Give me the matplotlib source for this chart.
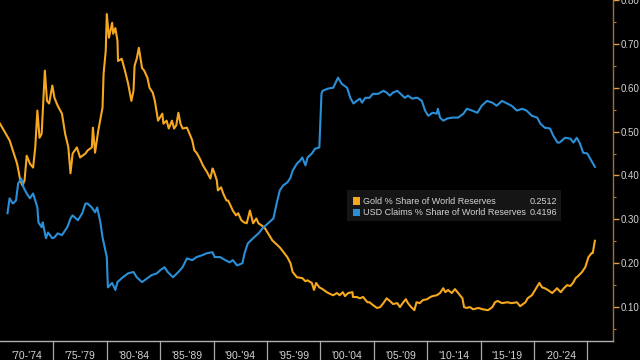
import matplotlib
matplotlib.use("Agg")
import matplotlib.pyplot as plt
from matplotlib.patches import Rectangle
from matplotlib.ticker import MultipleLocator, FormatStrFormatter
import matplotlib.transforms as mtransforms

plt.rcParams['font.family'] = ['Liberation Sans', 'DejaVu Sans']

gold_years = [1970.0, 1970.9, 1971.6, 1971.9, 1972.1, 1972.3, 1972.5, 1972.8, 1973.1, 1973.3,
              1973.5, 1973.7, 1973.9, 1974.2, 1974.4, 1974.6, 1974.9, 1975.1, 1975.4, 1975.8,
              1976.1, 1976.4, 1976.6, 1976.8, 1977.2, 1977.5, 1978.0, 1978.2, 1978.6, 1978.7,
              1978.9, 1979.2, 1979.6, 1979.7, 1979.9, 1980.0, 1980.2, 1980.5, 1980.6, 1980.8,
              1981.0, 1981.05, 1981.4, 1981.7, 1982.0, 1982.3, 1982.5, 1982.6, 1982.8, 1983.0,
              1983.3, 1983.5, 1983.8, 1984.0, 1984.3,
              1984.5, 1984.8, 1985.2, 1985.3, 1985.6, 1985.8, 1986.1, 1986.3, 1986.5, 1986.7,
              1986.9, 1987.1, 1987.5, 1987.7, 1988.0, 1988.2, 1988.4, 1988.7, 1989.0, 1989.4,
              1989.7, 1989.9, 1990.0, 1990.3, 1990.4, 1990.7, 1990.9, 1991.2, 1991.35, 1991.5,
              1991.8, 1992.1, 1992.3, 1992.6, 1992.85, 1993.1, 1993.4, 1993.7, 1994.0, 1994.2,
              1994.5, 1994.8, 1995.1, 1995.5, 1996.2, 1996.9,
              1997.2, 1997.4, 1997.8, 1998.3, 1998.6, 1998.8, 1999.2, 1999.4, 1999.6, 1999.9,
              2000.2, 2000.6, 2000.9, 2001.2, 2001.55, 2001.8, 2002.1, 2002.3, 2002.6, 2003.0,
              2003.05, 2003.4, 2003.7, 2004.0, 2004.4, 2004.6, 2004.9, 2005.3, 2005.6, 2005.9,
              2006.2, 2006.5, 2006.8, 2007.2, 2007.45, 2007.7, 2008.0, 2008.2, 2008.5, 2008.8,
              2009.0, 2009.3, 2009.6, 2010.0, 2010.3, 2010.5, 2010.9, 2011.2, 2011.5, 2011.7,
              2011.95, 2012.3, 2012.6, 2012.9, 2013.3, 2013.45, 2013.7, 2014.0, 2014.3, 2014.8,
              2015.2, 2015.7, 2016.1, 2016.35, 2016.6, 2017.0, 2017.5, 2017.9, 2018.4, 2018.7,
              2019.2, 2019.4, 2019.8, 2020.1, 2020.5, 2020.75, 2021.0, 2021.3, 2021.7, 2022.0,
              2022.15, 2022.5, 2022.8, 2023.1, 2023.4, 2023.65, 2023.9, 2024.1, 2024.5, 2024.8,
              2025.1, 2025.4, 2025.5, 2025.7]
gold_share = [0.518, 0.480, 0.427, 0.389, 0.377, 0.389, 0.445, 0.427, 0.418, 0.464,
              0.548, 0.486, 0.495, 0.639, 0.570, 0.564, 0.605, 0.577, 0.559, 0.541,
              0.495, 0.464, 0.405, 0.450, 0.464, 0.441, 0.450, 0.457, 0.464, 0.509,
              0.452, 0.502, 0.555, 0.632, 0.684, 0.768, 0.714, 0.748, 0.723, 0.736,
              0.707, 0.661, 0.666, 0.639, 0.609, 0.570, 0.593, 0.650, 0.666, 0.691,
              0.645, 0.639, 0.623, 0.600, 0.589,
              0.570, 0.525, 0.541, 0.518, 0.525, 0.507, 0.525, 0.507, 0.514, 0.543,
              0.518, 0.507, 0.509, 0.498, 0.480, 0.457, 0.452, 0.439, 0.423, 0.407,
              0.393, 0.416, 0.411, 0.389, 0.366, 0.373, 0.359, 0.343, 0.343, 0.336,
              0.320, 0.309, 0.314, 0.298, 0.293, 0.291, 0.320, 0.291, 0.302, 0.291,
              0.286, 0.280, 0.268, 0.252, 0.236, 0.214,
              0.200, 0.180, 0.168, 0.166, 0.159, 0.161, 0.155, 0.139, 0.155, 0.145,
              0.141, 0.134, 0.130, 0.127, 0.132, 0.127, 0.134, 0.125, 0.132, 0.134,
              0.123, 0.123, 0.120, 0.123, 0.111, 0.111, 0.105, 0.098, 0.100, 0.109,
              0.120, 0.114, 0.107, 0.109, 0.100, 0.109, 0.118, 0.109, 0.100, 0.093,
              0.111, 0.109, 0.116, 0.118, 0.123, 0.125, 0.127, 0.132, 0.143, 0.134,
              0.139, 0.132, 0.141, 0.132, 0.120, 0.100, 0.098, 0.100, 0.095, 0.098,
              0.095, 0.093, 0.100, 0.111, 0.114, 0.109, 0.111, 0.109, 0.111, 0.102,
              0.111, 0.120, 0.127, 0.139, 0.155, 0.145, 0.143, 0.139, 0.132, 0.139,
              0.143, 0.134, 0.143, 0.150, 0.148, 0.155, 0.166, 0.170, 0.180, 0.191,
              0.214, 0.223, 0.223, 0.2512]

usd_years = [1970.7, 1970.9, 1971.2, 1971.5, 1971.7, 1972.0, 1972.2, 1972.5, 1972.8, 1973.1,
             1973.5, 1973.6, 1973.9, 1974.0, 1974.3, 1974.5, 1974.9, 1975.1, 1975.4, 1975.8,
             1976.3, 1976.6, 1976.8, 1977.3, 1977.7, 1978.0, 1978.2, 1978.6, 1978.9, 1979.1,
             1979.4, 1979.6, 1980.0, 1980.1, 1980.5, 1980.8, 1981.0, 1981.5, 1982.0, 1982.5,
             1982.8, 1983.3, 1983.8, 1984.2, 1984.7, 1985.0, 1985.4, 1985.7, 1986.2, 1986.7,
             1987.1, 1987.5, 1988.0, 1988.4, 1988.9, 1989.4, 1989.9, 1990.1, 1990.6, 1991.1,
             1991.5, 1991.8, 1992.2, 1992.7, 1992.9, 1993.2, 1993.7, 1994.2, 1994.6, 1995.1,
             1995.6, 1995.9, 1996.2, 1996.5, 1996.9, 1997.2, 1997.4, 1997.8, 1998.1, 1998.3,
             1998.6, 1998.8, 1999.2, 1999.5, 1999.9, 2000.1, 2000.2, 2000.7, 2001.2, 2001.6,
             2001.65, 2002.0, 2002.5, 2002.8, 2003.1, 2003.4, 2003.7, 2003.9, 2004.2, 2004.6,
             2004.9, 2005.4, 2005.9, 2006.2, 2006.5, 2006.8, 2007.2, 2007.5, 2007.9, 2008.2,
             2008.6, 2008.9, 2009.1, 2009.5, 2009.8, 2010.1, 2010.5, 2010.9, 2011.0, 2011.2,
             2011.5, 2011.9, 2012.4, 2012.9, 2013.4, 2013.7, 2014.2, 2014.7, 2015.1, 2015.6,
             2016.1, 2016.5, 2017.0, 2017.5, 2017.9, 2018.4, 2018.9, 2019.3, 2019.8, 2020.3,
             2020.6, 2021.0, 2021.5, 2021.8, 2022.2, 2022.4, 2022.9, 2023.4, 2023.7, 2024.0,
             2024.3, 2024.6, 2025.0, 2025.2, 2025.7]
usd_share = [0.314, 0.348, 0.336, 0.343, 0.382, 0.393, 0.373, 0.359, 0.348, 0.359,
             0.327, 0.293, 0.282, 0.293, 0.257, 0.270, 0.257, 0.259, 0.268, 0.264,
             0.282, 0.302, 0.309, 0.298, 0.314, 0.336, 0.336, 0.327, 0.316, 0.327,
             0.293, 0.259, 0.214, 0.145, 0.155, 0.139, 0.157, 0.168, 0.177, 0.180,
             0.168, 0.157, 0.166, 0.173, 0.177, 0.184, 0.191, 0.180, 0.168, 0.180,
             0.191, 0.211, 0.207, 0.214, 0.218, 0.223, 0.225, 0.214, 0.214, 0.207,
             0.202, 0.207, 0.195, 0.200, 0.223, 0.245, 0.257, 0.268, 0.280, 0.291,
             0.302, 0.336, 0.366, 0.377, 0.384, 0.395, 0.411, 0.427, 0.434, 0.441,
             0.423, 0.441, 0.450, 0.461, 0.464, 0.586, 0.593, 0.598, 0.600, 0.620,
             0.623, 0.609, 0.600, 0.577, 0.564, 0.570, 0.575, 0.566, 0.577, 0.577,
             0.586, 0.586, 0.593, 0.589, 0.582, 0.589, 0.593, 0.586, 0.577, 0.582,
             0.575, 0.577, 0.577, 0.570, 0.548, 0.536, 0.543, 0.541, 0.552, 0.532,
             0.525, 0.530, 0.532, 0.532, 0.541, 0.552, 0.548, 0.543, 0.559, 0.570,
             0.566, 0.559, 0.570, 0.564, 0.559, 0.548, 0.552, 0.548, 0.536, 0.532,
             0.518, 0.509, 0.507, 0.491, 0.475, 0.475, 0.486, 0.484, 0.475, 0.486,
             0.473, 0.452, 0.450, 0.441, 0.4196]

period_labels = ["'70-'74", "'75-'79", "'80-'84", "'85-'89", "'90-'94", "'95-'99",
                 "'00-'04", "'05-'09", "'10-'14", "'15-'19", "'20-'24"]
period_starts = [1970, 1975, 1980, 1985, 1990, 1995, 2000, 2005, 2010, 2015, 2020]
series_names = ["Gold % Share of World Reserves", "USD Claims % Share of World Reserves"]

GOLD = '#f5a81f'
BLUE = '#2b8fd8'
TXT = '#d4d4d4'

fig = plt.figure(figsize=(6.4, 3.6), dpi=100, facecolor='black')
ax = fig.add_axes([0.0, 19 / 360, 613 / 640, 341 / 360])
ax.set_facecolor('black')

ax.plot(gold_years, gold_share, color=GOLD, lw=1.5, solid_joinstyle='round')
ax.plot(usd_years, usd_share, color=BLUE, lw=1.5, solid_joinstyle='round')

ax.set_xlim(1970, 1970 + 613 / 10.68)
ax.set_ylim(0.0227, 0.80)

# right axis styling
ax.yaxis.tick_right()
ax.yaxis.set_major_locator(MultipleLocator(0.10))
ax.yaxis.set_minor_locator(MultipleLocator(0.05))
ax.yaxis.set_major_formatter(FormatStrFormatter('%.2f'))
ax.tick_params(axis='y', which='major', colors='#e0a040', labelcolor=TXT,
               length=4, width=1, labelsize=7, pad=1.5, direction='out')
ax.tick_params(axis='y', which='minor', colors='#b08040', length=2.5, width=0.8)
for s in ['left', 'top']:
    ax.spines[s].set_visible(False)
ax.spines['right'].set_color('#9a7040')
ax.spines['right'].set_linewidth(1.0)
ax.spines['bottom'].set_color('#b0b0b0')
ax.spines['bottom'].set_linewidth(1.0)

# period band labels
ax.set_xticks([])
trans = mtransforms.blended_transform_factory(ax.transData, ax.transAxes)
for start, lab in zip(period_starts, period_labels):
    ax.text(start + 2.5, -0.030, lab, transform=trans, ha='center', va='top',
            color=TXT, fontsize=7.5, clip_on=False)
    ax.plot([start + 5, start + 5], [0, -0.08], transform=trans, color='#a8a8a8',
            lw=0.9, clip_on=False)

# legend box
lx0, lx1 = 347 / 613, 561 / 613
ly0, ly1 = (341 - 221) / 341, (341 - 190) / 341
ax.add_patch(Rectangle((lx0, ly0), lx1 - lx0, ly1 - ly0, transform=ax.transAxes,
                       facecolor='#151515', edgecolor='none', zorder=5))
rows = [(series_names[0], gold_share[-1], GOLD, (341 - 201) / 341),
        (series_names[1], usd_share[-1], BLUE, (341 - 212.5) / 341)]
for name, val, col, yy in rows:
    ax.add_patch(Rectangle((353 / 613, yy - 3.8 / 341), 7 / 613, 7.6 / 341,
                           transform=ax.transAxes, facecolor=col, edgecolor='none', zorder=6))
    ax.text(363 / 613, yy, name, transform=ax.transAxes, ha='left', va='center',
            color=TXT, fontsize=6.5, zorder=7)
    ax.text(557 / 613, yy, f"{val:.4f}", transform=ax.transAxes, ha='right', va='center',
            color=TXT, fontsize=6.5, zorder=7)

fig.savefig('out.png', dpi=100, facecolor='black')
